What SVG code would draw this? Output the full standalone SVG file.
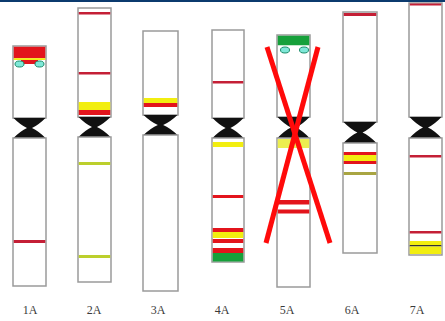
<svg xmlns="http://www.w3.org/2000/svg" width="445" height="321" viewBox="0 0 445 321">
  <style>
    .arm { fill: #ffffff; stroke: #9a9a9a; stroke-width: 1.5; }
    .cen { fill: #111111; }
    .red { fill: #e3141c; }
    .crim { fill: #c41f36; }
    .yel { fill: #f2ee10; }
    .ygr { fill: #bccf2c; }
    .olv { fill: #a9a542; }
    .grn { fill: #16a03a; }
    .cyan { fill: #7fe8d8; stroke: #1c8c6a; stroke-width: 1; }
    .lbl { font-family: "Liberation Serif", "Times New Roman", serif; font-size: 12px; fill: #3a3a3a; text-anchor: middle; }
    .cross { stroke: #ff0a0a; stroke-width: 5; stroke-linecap: butt; }
  </style>

  <defs>
    <!-- centromere constriction, 32 wide x 20 tall, origin at top-left -->
    <path id="cen32" d="M0 0 L32 0 Q25 7 18.5 10 Q25 13 32 20 L0 20 Q7 13 13.5 10 Q7 7 0 0 Z"/>
  </defs>

  <rect x="0" y="0" width="445" height="321" fill="#ffffff"/>
  <rect x="0" y="0" width="445" height="2" fill="#0b3a6e"/>

  <!-- 1A -->
  <g id="chr1A">
    <rect class="arm" x="13" y="46" width="33" height="72"/>
    <rect class="red" x="13.75" y="46.75" width="31.5" height="11.5"/>
    <rect class="yel" x="13.75" y="58.2" width="31.5" height="1.8"/>
    <rect class="red" x="21" y="60" width="17" height="4"/>
    <ellipse class="cyan" cx="19.5" cy="64" rx="4.5" ry="3"/>
    <ellipse class="cyan" cx="39.5" cy="64" rx="4.5" ry="3"/>
    <use class="cen" href="#cen32" transform="translate(13.5 118)"/>
    <rect class="arm" x="13" y="138" width="33" height="148"/>
    <rect class="crim" x="13.75" y="240" width="31.5" height="3"/>
    <text class="lbl" x="30" y="314">1A</text>
  </g>

  <!-- 2A -->
  <g id="chr2A">
    <rect class="arm" x="78" y="8" width="33" height="109"/>
    <rect class="crim" x="78.75" y="12" width="31.5" height="2.5"/>
    <rect class="crim" x="78.75" y="72" width="31.5" height="2.5"/>
    <rect class="yel" x="78.75" y="102" width="31.5" height="8"/>
    <rect class="red" x="78.75" y="110" width="31.5" height="5"/>
    <use class="cen" href="#cen32" transform="translate(78.5 117)"/>
    <rect class="arm" x="78" y="137" width="33" height="145"/>
    <rect class="ygr" x="78.75" y="162" width="31.5" height="3"/>
    <rect class="ygr" x="78.75" y="255" width="31.5" height="3"/>
    <text class="lbl" x="94" y="314">2A</text>
  </g>

  <!-- 3A -->
  <g id="chr3A">
    <rect class="arm" x="143" y="31" width="35" height="84"/>
    <rect class="yel" x="143.75" y="98" width="33.5" height="5"/>
    <rect class="red" x="143.75" y="103" width="33.5" height="4"/>
    <use class="cen" href="#cen32" transform="translate(143.5 115) scale(1.0625 1)"/>
    <rect class="arm" x="143" y="135" width="35" height="156"/>
    <text class="lbl" x="158" y="314">3A</text>
  </g>

  <!-- 4A -->
  <g id="chr4A">
    <rect class="arm" x="212" y="30" width="32" height="88"/>
    <rect class="crim" x="212.75" y="81" width="30.5" height="2.5"/>
    <use class="cen" href="#cen32" transform="translate(212.5 118) scale(0.97 1)"/>
    <rect class="arm" x="212" y="138" width="32" height="124"/>
    <rect class="yel" x="212.75" y="142" width="30.5" height="5"/>
    <rect class="red" x="212.75" y="195" width="30.5" height="3"/>
    <rect class="red" x="212.75" y="228" width="30.5" height="4"/>
    <rect class="yel" x="212.75" y="232" width="30.5" height="6"/>
    <rect class="red" x="212.75" y="239" width="30.5" height="4"/>
    <rect class="red" x="212.75" y="248" width="30.5" height="5"/>
    <rect class="grn" x="212.75" y="253" width="30.5" height="8.5"/>
    <text class="lbl" x="222" y="314">4A</text>
  </g>

  <!-- 5A -->
  <g id="chr5A">
    <rect class="arm" x="277" y="35" width="33" height="82"/>
    <rect class="grn" x="277.75" y="35.75" width="31.5" height="9.5"/>
    <ellipse class="cyan" cx="285" cy="50" rx="4.5" ry="3"/>
    <ellipse class="cyan" cx="304" cy="50" rx="4.5" ry="3"/>
    <use class="cen" href="#cen32" transform="translate(277.5 117) scale(1 1.05)"/>
    <rect class="arm" x="277" y="138" width="33" height="149"/>
    <rect x="277.75" y="139" width="31.5" height="9" fill="#ecee50"/>
    <rect class="red" x="277.75" y="200" width="31.5" height="4.5"/>
    <rect class="red" x="277.75" y="209.5" width="31.5" height="4"/>
    <line class="cross" x1="267" y1="47" x2="330" y2="243"/>
    <line class="cross" x1="318" y1="47" x2="266" y2="243"/>
    <text class="lbl" x="287" y="314">5A</text>
  </g>

  <!-- 6A -->
  <g id="chr6A">
    <rect class="arm" x="343" y="12" width="34" height="110"/>
    <rect class="crim" x="343.75" y="13" width="32.5" height="3"/>
    <use class="cen" href="#cen32" transform="translate(343.5 122) scale(1.03 1.05)"/>
    <rect class="arm" x="343" y="143" width="34" height="110"/>
    <rect class="red" x="343.75" y="152" width="32.5" height="3"/>
    <rect class="yel" x="343.75" y="155" width="32.5" height="6"/>
    <rect class="red" x="343.75" y="161" width="32.5" height="3"/>
    <rect class="olv" x="343.75" y="172" width="32.5" height="3"/>
    <text class="lbl" x="352" y="314">6A</text>
  </g>

  <!-- 7A -->
  <g id="chr7A">
    <rect class="arm" x="409" y="3" width="33" height="114"/>
    <rect class="crim" x="409.75" y="3.5" width="31.5" height="2"/>
    <use class="cen" href="#cen32" transform="translate(409.5 117) scale(1 1.05)"/>
    <rect class="arm" x="409" y="138" width="33" height="117"/>
    <rect class="crim" x="409.75" y="155" width="31.5" height="2.5"/>
    <rect class="crim" x="409.75" y="231" width="31.5" height="2.5"/>
    <rect class="yel" x="409.75" y="241" width="31.5" height="4"/>
    <rect fill="#333333" x="409.75" y="245" width="31.5" height="1.5"/>
    <rect class="yel" x="409.75" y="246.5" width="31.5" height="7.5"/>
    <text class="lbl" x="417" y="314">7A</text>
  </g>
</svg>
